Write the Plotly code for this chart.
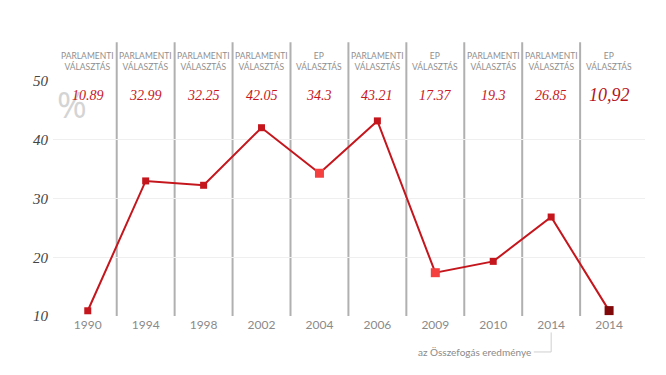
import plotly.graph_objects as go

years = ["1990", "1994", "1998", "2002", "2004", "2006", "2009", "2010", "2014", "2014 "]
values = [10.89, 32.99, 32.25, 42.05, 34.3, 43.21, 17.37, 19.3, 26.85, 10.92]
value_labels = ["10.89", "32.99", "32.25", "42.05", "34.3", "43.21", "17.37", "19.3", "26.85", "10,92"]
election_types = ["PARLAMENTI", "PARLAMENTI", "PARLAMENTI", "PARLAMENTI", "EP",
                  "PARLAMENTI", "EP", "PARLAMENTI", "PARLAMENTI", "EP"]
marker_colors = ["#c4161c"] * 4 + ["#f54040", "#c4161c", "#f54040", "#c4161c", "#c4161c", "#800808"]
marker_sizes = [7, 7, 7, 7, 9, 7, 9, 7, 7, 9]

xs = list(range(len(years)))

fig = go.Figure()
fig.add_trace(go.Scatter(
    x=xs, y=values, mode="lines+markers",
    line=dict(color="#c4161c", width=2),
    marker=dict(symbol="square", size=marker_sizes, color=marker_colors, opacity=1,
                line=dict(width=0)),
    hoverinfo="skip", showlegend=False, cliponaxis=False,
))

shapes = []
for i in range(len(years) - 1):
    shapes.append(dict(type="line", xref="x", yref="paper", x0=i + 0.5, x1=i + 0.5,
                       y0=0, y1=1.165, line=dict(color="#b0b0b0", width=2), layer="below"))
# annotation leader line
shapes.append(dict(type="line", xref="x", yref="paper", x0=7.7, x1=8.0, y0=-0.153, y1=-0.153,
                   line=dict(color="#cfcfcf", width=1)))
shapes.append(dict(type="line", xref="x", yref="paper", x0=8.0, x1=8.0, y0=-0.153, y1=-0.07,
                   line=dict(color="#cfcfcf", width=1)))

annotations = []
annotations.append(dict(x=-0.27, y=46.0, xref="x", yref="y", text="%", showarrow=False,
                        font=dict(family="Open Sans", size=36, color="#d4d4d4")))
for i, (t, lab) in enumerate(zip(election_types, value_labels)):
    annotations.append(dict(x=i, y=(316 - 61) / 235, xref="x", yref="paper",
                            text=t + "<br>VÁLASZTÁS", showarrow=False, yanchor="middle",
                            font=dict(family="Lato", size=8.5, color="#8f8f8f")))
    last = i == len(years) - 1
    annotations.append(dict(x=i, y=47.6, xref="x", yref="y", text=lab, showarrow=False,
                            font=dict(family="Liberation Serif", size=18 if last else 14,
                                      color="#b5121b" if last else "#c8161d", style="italic")))
annotations.append(dict(x=7.68, y=-0.153, xref="x", yref="paper", text="az Összefogás eredménye",
                        showarrow=False, xanchor="right", yanchor="middle",
                        font=dict(family="Lato", size=10, color="#8a8a8a")))

fig.update_layout(
    width=658, height=367,
    margin=dict(l=45, r=21, t=73, b=59),
    plot_bgcolor="white", paper_bgcolor="white",
    shapes=shapes, annotations=annotations,
    xaxis=dict(range=[-0.6, 9.62], tickmode="array", tickvals=xs, ticktext=[y.strip() for y in years],
               showgrid=False, zeroline=False, showline=False, ticks="",
               tickfont=dict(family="Lato", size=12, color="#8a8a8a")),
    yaxis=dict(range=[10, 50], tickvals=[10, 20, 30, 40, 50], showgrid=True,
               gridcolor="#efefef", gridwidth=1, zeroline=False, showline=False, ticks="",
               ticklabelstandoff=4, automargin=False,
               tickfont=dict(family="Liberation Serif", size=15, color="#444444", style="italic")),
)

fig.write_html("out.html")
